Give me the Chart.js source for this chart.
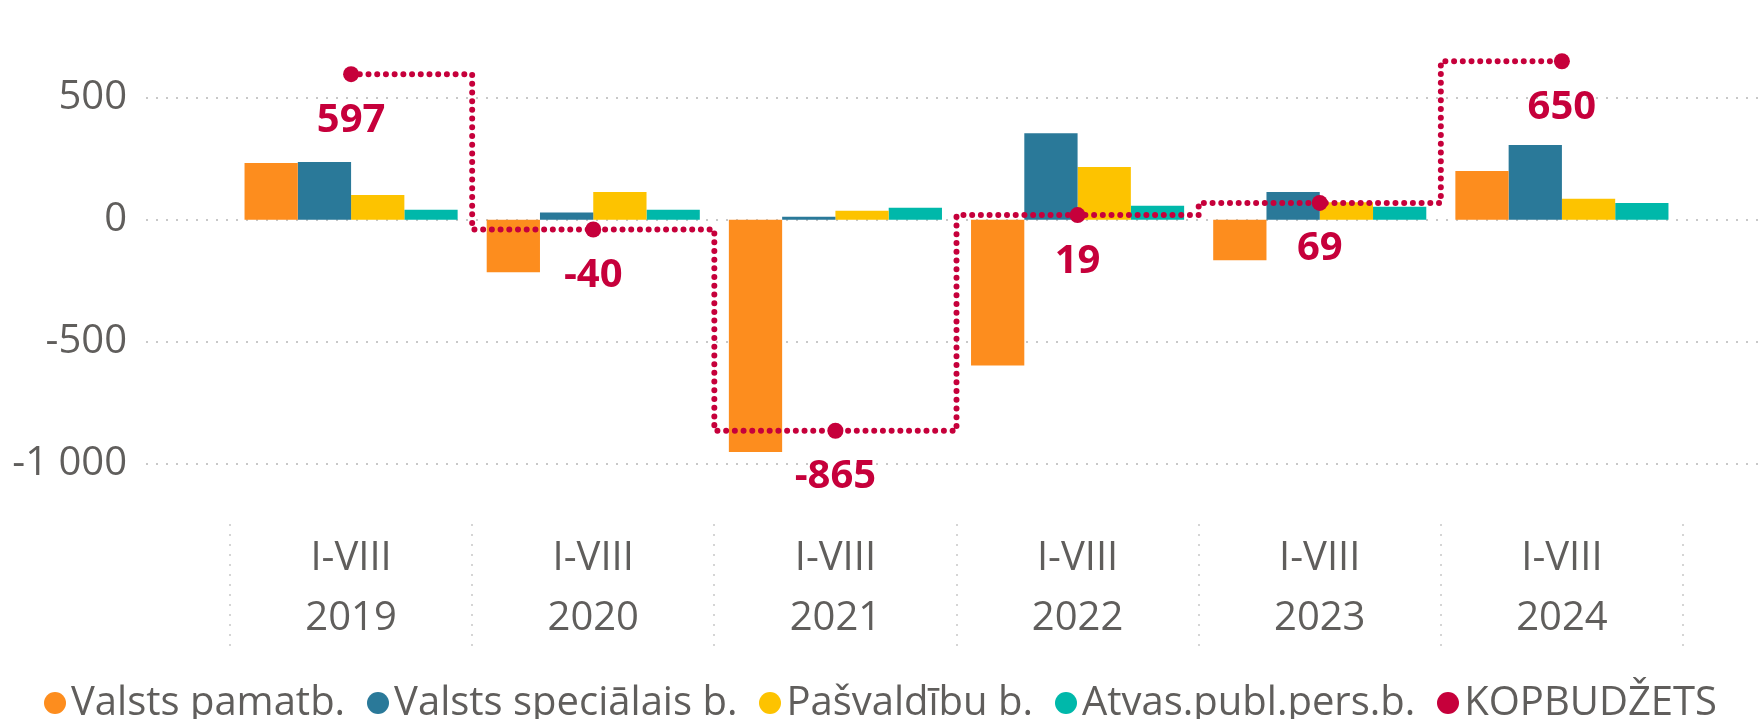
<!DOCTYPE html>
<html>
<head>
<meta charset="utf-8">
<script src="https://cdn.jsdelivr.net/npm/chart.js@4.4.1/dist/chart.umd.min.js"></script>
<style>
  html, body { margin: 0; padding: 0; background: #fff; }
  #wrap { position: relative; width: 1761px; height: 719px; overflow: hidden; }
  #legend {
    position: absolute; left: 0; right: 0; top: 680px;
    display: flex; justify-content: center; align-items: center;
    font: 40px 'Open Sans', sans-serif; line-height: 40px; color: #605E5C; white-space: nowrap;
  }
  #legend .item { display: flex; align-items: center; margin: 0 11px; }
  #legend .dot { width: 22px; height: 22px; border-radius: 50%; margin-right: 5px; margin-top: 6px; }
</style>
</head>
<body>
<div id="wrap">
  <canvas id="chart" width="1761" height="719"></canvas>
  <div id="legend"></div>
</div>
<script>
// categories (two-line labels)
const periods = ['I-VIII', 'I-VIII', 'I-VIII', 'I-VIII', 'I-VIII', 'I-VIII'];
const years = ['2019', '2020', '2021', '2022', '2023', '2024'];

// series, milj. EUR
const valstsPamatb = [233, -215, -952, -598, -166, 200];
const valstsSpec = [237, 30, 12, 355, 114, 306];
const pasvaldibu = [102, 114, 37, 216, 72, 86];
const atvasPubl = [41, 41, 49, 57, 53, 69];
const kopbudzets = [597, -40, -865, 19, 69, 650];

const yTicks = [-1000, -500, 0, 500];

const grey = '#605E5C';
const crimson = '#C6003B';
const font = 'Open Sans';

function fmt(v) {
    return String(v).replace(/\B(?=(\d{3})+(?!\d))/g, ' ');
}

// dotted grid lines + category separators
const gridPlugin = {
    id: 'dotGrid',
    beforeDatasetsDraw(chart) {
        const ctx = chart.ctx;
        const y = chart.scales.y;
        const x = chart.scales.x;
        const area = chart.chartArea;
        ctx.save();
        ctx.strokeStyle = '#C8C8C8';
        ctx.lineWidth = 2;
        ctx.setLineDash([2, 8]);
        yTicks.forEach(t => {
            const py = Math.round(y.getPixelForValue(t));
            ctx.beginPath();
            ctx.moveTo(146, py);
            ctx.lineTo(chart.width, py);
            ctx.stroke();
        });
        ctx.lineWidth = 1.5;
        for (let i = 0; i <= years.length; i++) {
            const px = Math.round(x.getPixelForValue(i - 0.5));
            ctx.beginPath();
            ctx.moveTo(px, area.bottom + 14);
            ctx.lineTo(px, area.bottom + 137);
            ctx.stroke();
        }
        ctx.restore();
    }
};

// value labels for KOPBUDŽETS
const valuePlugin = {
    id: 'values',
    afterDatasetsDraw(chart) {
        const ctx = chart.ctx;
        const idx = chart.data.datasets.findIndex(d => d.type === 'line');
        const meta = chart.getDatasetMeta(idx);
        ctx.save();
        ctx.fillStyle = crimson;
        ctx.font = 'bold 40px "' + font + '"';
        ctx.textAlign = 'center';
        ctx.textBaseline = 'middle';
        meta.data.forEach((pt, i) => {
            ctx.fillText(fmt(kopbudzets[i]), pt.x, pt.y + 46);
        });
        ctx.restore();
    }
};

const barOpts = { type: 'bar', borderWidth: 0, categoryPercentage: 0.88, barPercentage: 1.0, order: 1 };

const chart = new Chart(document.getElementById('chart'), {
    data: {
        labels: periods.map((p, i) => [p, years[i]]),
        datasets: [
            { ...barOpts, label: 'Valsts pamatb.', data: valstsPamatb, backgroundColor: '#FD8D1E' },
            { ...barOpts, label: 'Valsts speciālais b.', data: valstsSpec, backgroundColor: '#2A7999' },
            { ...barOpts, label: 'Pašvaldību b.', data: pasvaldibu, backgroundColor: '#FDC300' },
            { ...barOpts, label: 'Atvas.publ.pers.b.', data: atvasPubl, backgroundColor: '#00B8AA' },
            {
                type: 'line', label: 'KOPBUDŽETS', data: kopbudzets,
                stepped: 'middle', fill: false, order: 0,
                borderColor: crimson, borderWidth: 6,
                borderDash: [0.01, 8.7], borderCapStyle: 'round',
                pointRadius: 8, pointBackgroundColor: crimson, pointBorderWidth: 0,
                backgroundColor: crimson
            }
        ]
    },
    options: {
        responsive: false,
        animation: false,
        layout: { padding: { top: 10, right: 78, bottom: 78, left: 0 } },
        plugins: { legend: { display: false }, tooltip: { enabled: false } },
        scales: {
            x: {
                offset: true,
                grid: { display: false },
                border: { display: false },
                ticks: {
                    padding: 11, color: grey, maxRotation: 0, autoSkip: false,
                    font: { family: font, size: 40, lineHeight: 1.5 }
                },
                afterFit(scale) {
                    scale.height = 131;
                    scale.paddingLeft = 0;
                    scale.paddingRight = 0;
                }
            },
            y: {
                min: -1190, max: 860,
                grid: { display: false },
                border: { display: false },
                ticks: {
                    padding: 95, color: grey,
                    font: { family: font, size: 40 },
                    callback: v => fmt(v)
                },
                afterBuildTicks(scale) {
                    scale.ticks = yTicks.map(v => ({ value: v }));
                },
                afterFit(scale) {
                    scale.width = 230;
                    scale.paddingTop = 0;
                    scale.paddingBottom = 0;
                }
            }
        }
    },
    plugins: [gridPlugin, valuePlugin]
});

// legend
const legend = document.getElementById('legend');
chart.data.datasets.forEach(ds => {
    const item = document.createElement('span');
    item.className = 'item';
    const dot = document.createElement('span');
    dot.className = 'dot';
    dot.style.background = ds.backgroundColor;
    item.appendChild(dot);
    item.appendChild(document.createTextNode(ds.label));
    legend.appendChild(item);
});
</script>
</body>
</html>
